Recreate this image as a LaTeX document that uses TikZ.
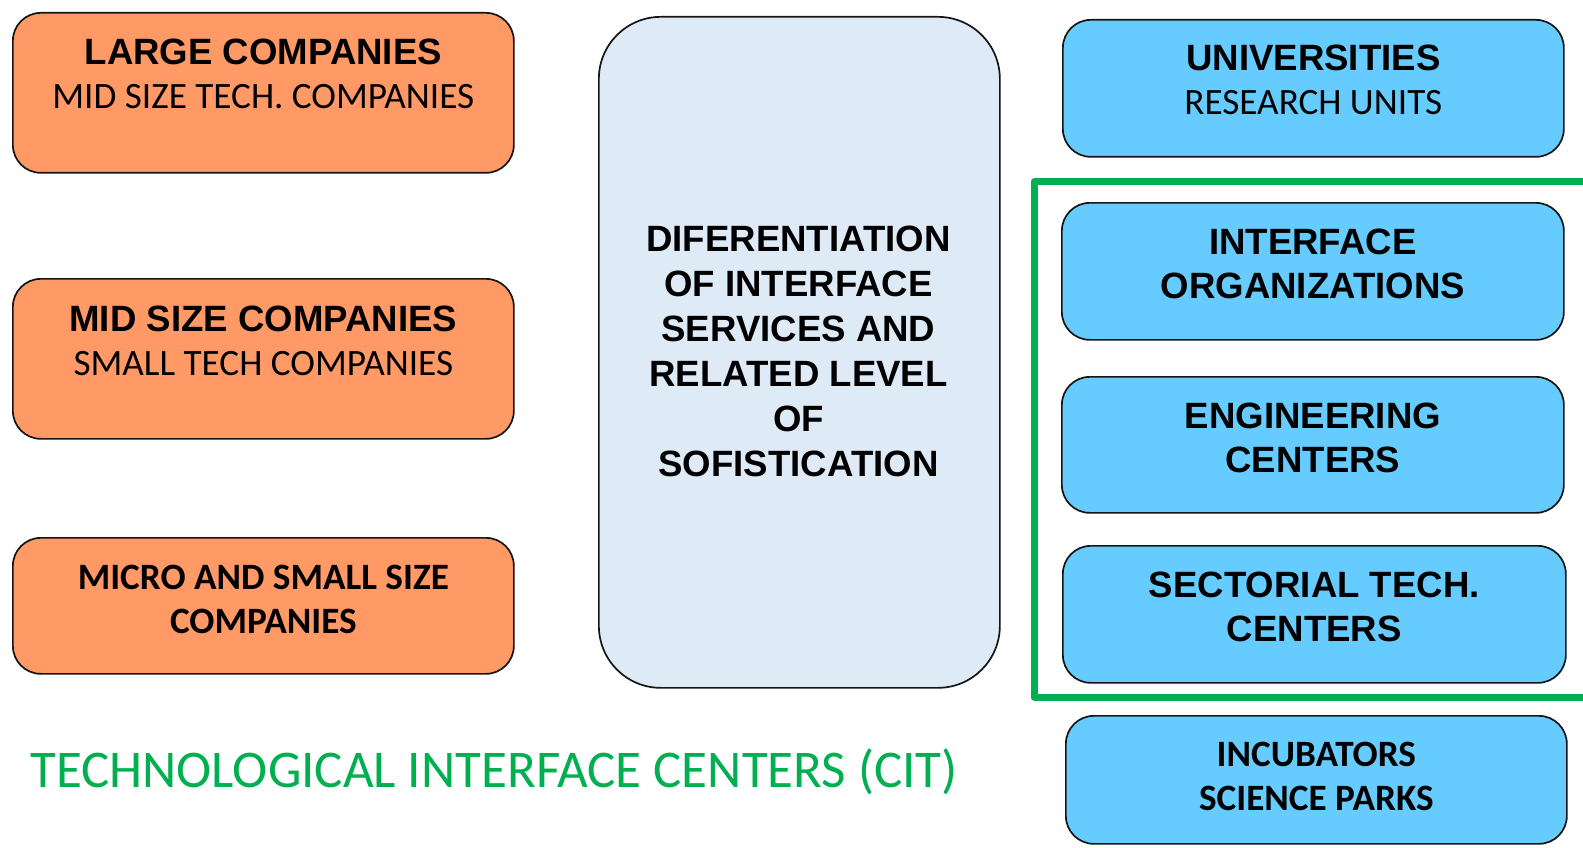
\documentclass[tikz,border=0pt]{standalone}
\usepackage{fontspec}
\newfontfamily\arialf{Liberation Sans}
\newfontfamily\calf{Carlito}
\newcommand\ftAB{\arialf\bfseries\fontsize{36.6}{44}\selectfont}
\newcommand\ftCR{\calf\mdseries\fontsize{37.2}{44}\selectfont}
\newcommand\ftCB{\calf\bfseries\fontsize{37.2}{44}\selectfont}
\definecolor{orangefill}{HTML}{FF9966}
\definecolor{bluefill}{HTML}{66CCFF}
\definecolor{centerfill}{HTML}{DEEBF7}
\definecolor{citgreen}{HTML}{00B050}
\definecolor{edgecol}{HTML}{151515}
\tikzset{
  box/.style={draw=edgecol, line width=1.7pt, rounded corners=28pt, inner sep=0pt, anchor=north west},
  orangebox/.style={box, fill=orangefill},
  bluebox/.style={box, fill=bluefill},
  txt/.style={inner sep=0pt, align=center, font=\ftAB},
  txtc/.style={inner sep=0pt, align=center, font=\ftCB},
  greenframe/.style={draw=citgreen, line width=7pt, line join=round},
}
\begin{document}
\begin{tikzpicture}[x=1pt,y=-1pt]
\useasboundingbox[fill=white] (0,0) rectangle (1583,848);

% green frame around interface centers
\coordinate (gTR) at (1595,182);
\coordinate (gTL) at (1034,182);
\coordinate (gBL) at (1034,697);
\coordinate (gBR) at (1595,697);
\draw[greenframe] (gTR) -- (gTL) -- (gBL) -- (gBR);

% left column
\node[orangebox, minimum width=501pt, minimum height=160pt] (large) at (12,12) {};
\node[txt] (largeT) at ([yshift=-62pt]large.north) {LARGE COMPANIES\\\ftCR MID SIZE TECH. COMPANIES};

\node[orangebox, minimum width=501pt, minimum height=160pt] (mid) at (12,278) {};
\node[txt] (midT) at ([yshift=-63pt]mid.north) {MID SIZE COMPANIES\\\ftCR SMALL TECH COMPANIES};

\node[orangebox, minimum width=501pt, minimum height=136pt] (micro) at (12,537) {};
\node[txtc] (microT) at ([yshift=-62pt]micro.north) {MICRO AND SMALL SIZE\\COMPANIES};

% centre column
\node[box, fill=centerfill, rounded corners=62pt, minimum width=401pt, minimum height=671pt] (centre) at (598,16) {};
\node[txt, font=\arialf\bfseries\fontsize{36.6}{45}\selectfont] (centreT) at (798.5,351.5)
  {DIFERENTIATION\\OF INTERFACE\\SERVICES AND\\RELATED LEVEL\\OF\\SOFISTICATION};

% right column
\node[bluebox, minimum width=501pt, minimum height=137pt] (univ) at (1062,19) {};
\node[txt] (univT) at ([yshift=-61pt]univ.north) {UNIVERSITIES\\\ftCR RESEARCH UNITS};

\node[bluebox, minimum width=502pt, minimum height=137pt] (iface) at (1061,202) {};
\node[txt] (ifaceT) at ([yshift=-62pt]iface.north) {INTERFACE\\ORGANIZATIONS};

\node[bluebox, minimum width=502pt, minimum height=136pt] (eng) at (1061,376) {};
\node[txt] (engT) at ([yshift=-62pt]eng.north) {ENGINEERING\\CENTERS};

\node[bluebox, minimum width=503pt, minimum height=137pt] (sect) at (1062,545) {};
\node[txt] (sectT) at ([yshift=-62pt]sect.north) {SECTORIAL TECH.\\CENTERS};

\node[bluebox, minimum width=501pt, minimum height=128pt] (incub) at (1065,715) {};
\node[txtc] (incubT) at ([yshift=-61pt]incub.north) {INCUBATORS\\SCIENCE PARKS};

% caption
\node[anchor=base west, inner sep=0pt, text=citgreen, font=\calf\fontsize{53}{60}\selectfont] (cit) at (30,787)
  {TECHNOLOGICAL INTERFACE CENTERS (CIT)};
\end{tikzpicture}
\end{document}
